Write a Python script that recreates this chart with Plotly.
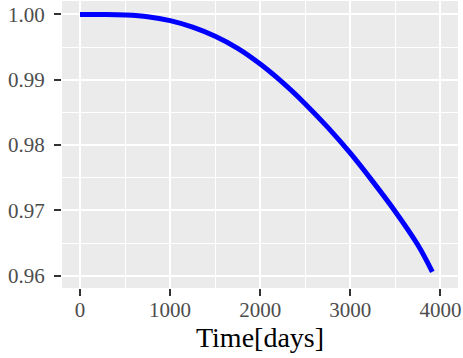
import plotly.graph_objects as go

# Survival curve
time_days = [0, 250, 500, 750, 1000, 1250, 1500, 1750, 2000, 2250, 2500,
             2750, 3000, 3250, 3500, 3750, 3910]
survival = [1.00000, 0.99998, 0.99990, 0.99965, 0.99905, 0.99805, 0.99665,
            0.99480, 0.99240, 0.98955, 0.98630, 0.98270, 0.97875, 0.97440,
            0.96980, 0.96470, 0.96060]

x_ticks = [0, 1000, 2000, 3000, 4000]
y_ticks = [0.96, 0.97, 0.98, 0.99, 1.00]
y_labels = ["0.96", "0.97", "0.98", "0.99", "1.00"]

fig = go.Figure()
fig.add_trace(go.Scatter(
    x=time_days, y=survival, mode="lines",
    line=dict(color="#0000FF", width=5, shape="spline", smoothing=1.0),
    hoverinfo="skip", showlegend=False,
))

font_family = "Liberation Serif"
fig.update_layout(
    width=463, height=358,
    margin=dict(l=62, r=5, t=1, b=70, autoexpand=False),
    paper_bgcolor="white",
    plot_bgcolor="#EBEBEB",
    font=dict(family=font_family, size=21, color="#4D4D4D"),
    showlegend=False,
)
fig.update_xaxes(
    automargin=False,
    range=[-200, 4195],
    tickmode="array", tickvals=x_ticks, ticktext=[str(v) for v in x_ticks],
    ticks="outside", ticklen=7, tickwidth=2, tickcolor="#333333",
    ticklabelstandoff=-4,
    showgrid=True, gridcolor="white", gridwidth=2,
    minor=dict(dtick=500, tick0=0, showgrid=True, gridcolor="white", gridwidth=1, ticks=""),
    zeroline=False, showline=False,
    tickfont=dict(family=font_family, size=21, color="#4D4D4D"),
    title=dict(text="Time[days]", font=dict(family=font_family, size=28, color="black"), standoff=5),
)
fig.update_yaxes(
    automargin=False,
    range=[0.95812, 1.00205],
    tickmode="array", tickvals=y_ticks, ticktext=y_labels,
    ticks="outside", ticklen=7, tickwidth=2, tickcolor="#333333",
    ticklabelstandoff=5,
    showgrid=True, gridcolor="white", gridwidth=2,
    minor=dict(dtick=0.005, tick0=0.96, showgrid=True, gridcolor="white", gridwidth=1, ticks=""),
    zeroline=False, showline=False,
    tickfont=dict(family=font_family, size=21, color="#4D4D4D"),
)

fig.write_html("out.html", config={"displayModeBar": False},
               post_script="document.body.style.margin='0';")
